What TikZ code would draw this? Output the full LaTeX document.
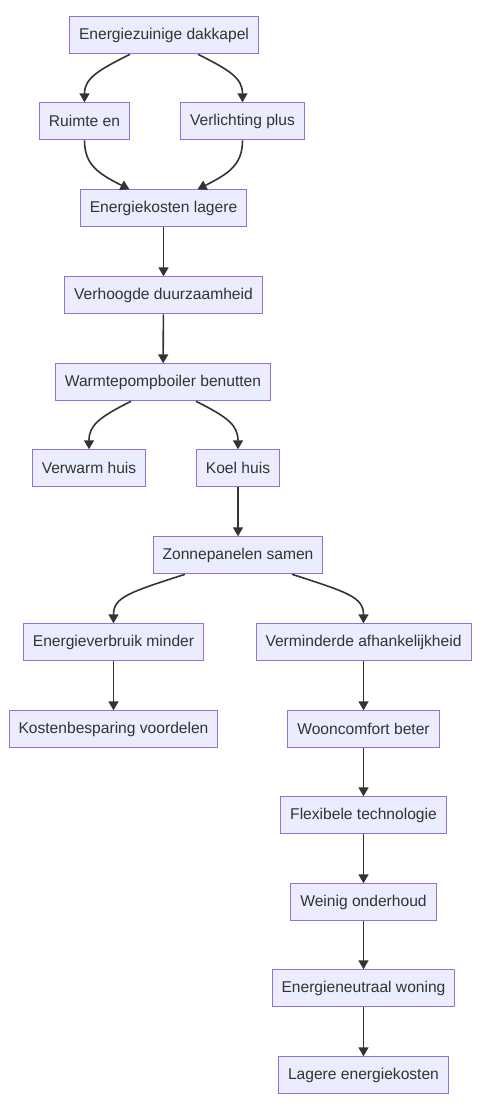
\documentclass[tikz,border=0pt]{standalone}
\usepackage{fontspec}
\setmainfont{Liberation Sans}
\usetikzlibrary{positioning,arrows.meta}
\definecolor{boxfill}{HTML}{ECECFF}
\definecolor{boxline}{HTML}{9370DB}
\definecolor{ink}{HTML}{333333}

\begin{document}
\begin{tikzpicture}[x=1pt, y=-1pt,
    every node/.style={font=\fontsize{15.6}{19}\selectfont, text=ink},
    box/.style={draw=boxline, fill=boxfill, line width=1pt, minimum height=37pt, inner xsep=9.5pt, inner ysep=0pt, yshift=-0.8pt},
    arr/.style={-{Triangle[length=9pt,width=10pt]}, line width=1.6pt, draw=ink}
]
\useasboundingbox (0,0) rectangle (488,1110);

\node[box] (dakkapel) at (164,34.5) {Energiezuinige dakkapel};
\node[box] (ruimte) at (84.5,120.5) {Ruimte en};
\node[box] (verlichting) at (242.5,120.5) {Verlichting plus};
\node[box] (kosten) at (163.5,207.5) {Energiekosten lagere};
\node[box] (duurzaam) at (163.5,294.5) {Verhoogde duurzaamheid};
\node[box] (boiler) at (163,381.5) {Warmtepompboiler benutten};
\node[box] (verwarm) at (89,467.5) {Verwarm huis};
\node[box] (koel) at (238,467.5) {Koel huis};
\node[box] (zonne) at (238,554.5) {Zonnepanelen samen};
\node[box] (verbruik) at (113.5,641.5) {Energieverbruik minder};
\node[box] (afhank) at (363.5,641.5) {Verminderde afhankelijkheid};
\node[box] (besparing) at (113.5,728.5) {Kostenbesparing voordelen};
\node[box] (comfort) at (363.5,728.5) {Wooncomfort beter};
\node[box] (flexibel) at (363.5,814.5) {Flexibele technologie};
\node[box] (onderhoud) at (363.5,901.5) {Weinig onderhoud};
\node[box] (neutraal) at (363.5,987.5) {Energieneutraal woning};
\node[box] (lager) at (363.5,1074.5) {Lagere energiekosten};

% vertakkingen
\draw[arr] ([xshift=-34pt]dakkapel.south) .. controls +(-32,16) and +(0,-24) .. (ruimte.north);
\draw[arr] ([xshift=34pt]dakkapel.south) .. controls +(32,16) and +(0,-24) .. (verlichting.north);
\draw[arr] (ruimte.south) .. controls +(0,24) and +(-32,-16) .. ([xshift=-34pt]kosten.north);
\draw[arr] (verlichting.south) .. controls +(0,24) and +(32,-16) .. ([xshift=34pt]kosten.north);
\draw[arr] ([xshift=-32pt]boiler.south) .. controls +(-32,16) and +(0,-24) .. (verwarm.north);
\draw[arr] ([xshift=33pt]boiler.south) .. controls +(32,16) and +(0,-24) .. (koel.north);
\draw[arr] ([xshift=-53pt]zonne.south) .. controls +(-56,18) and +(0,-26) .. (verbruik.north);
\draw[arr] ([xshift=54pt]zonne.south) .. controls +(56,18) and +(0,-26) .. (afhank.north);

% rechte lijnen
\draw[arr] (kosten) -- (duurzaam);
\draw[arr] (duurzaam) -- (boiler);
\draw[arr] (koel) -- (zonne);
\draw[arr] (verbruik) -- (besparing);
\draw[arr] (afhank) -- (comfort);
\draw[arr] (comfort) -- (flexibel);
\draw[arr] (flexibel) -- (onderhoud);
\draw[arr] (onderhoud) -- (neutraal);
\draw[arr] (neutraal) -- (lager);
\end{tikzpicture}
\end{document}
